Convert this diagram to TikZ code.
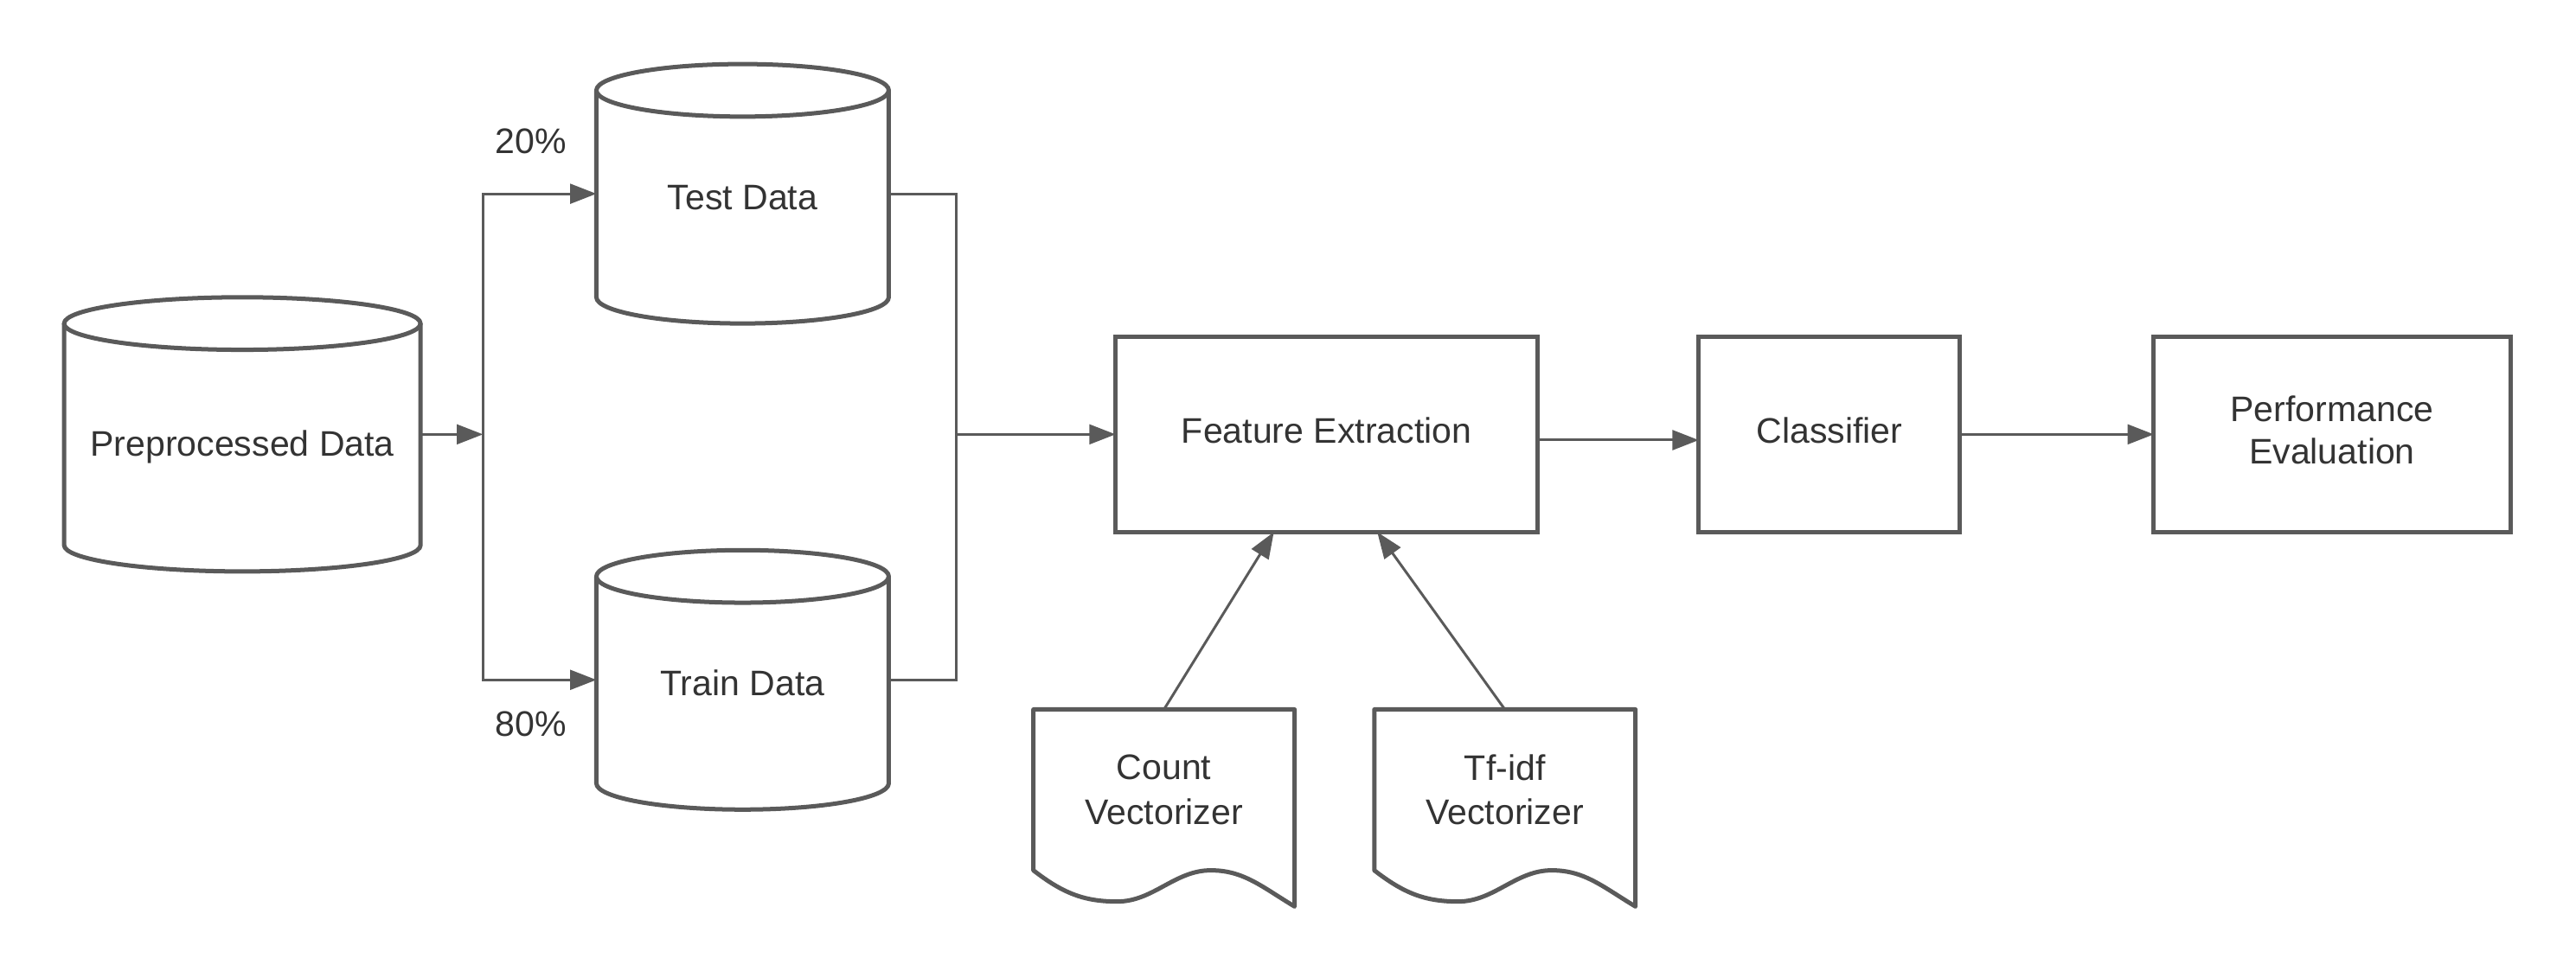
\documentclass[tikz,border=0pt]{standalone}
\usepackage{fontspec}
\setmainfont{Liberation Sans}
\usepackage{xcolor}
\usetikzlibrary{arrows.meta}
\usetikzlibrary{calc}
\definecolor{linegray}{HTML}{5A5A5A}
\definecolor{ink}{HTML}{333333}
\tikzset{every node/.style={font=\fontsize{12.3}{15.4}\selectfont,text=ink},
 box/.style={draw=linegray,line width=1.5pt,inner sep=0pt,outer sep=0pt,align=center,text depth=3pt},
 cyl/.style={inner sep=0pt,outer sep=0pt,align=center,text height=14pt,text depth=3pt},
 doc/.style={inner sep=0pt,outer sep=0pt,align=center,minimum width=3.18cm,minimum height=1.96cm},
 shapeline/.style={draw=linegray,line width=1.5pt,line join=round},
 flow/.style={draw=linegray,line width=0.9pt,-{Triangle[length=0.32cm,width=0.24cm]}},
 link/.style={draw=linegray,line width=0.9pt},
 }
\newcommand{\drawcyl}[2]{%
  \draw[shapeline] ($(#1.north west)+(0,16)$) -- ($(#1.south west)+(0,-16)$)
    arc[start angle=180,end angle=360,x radius=#2,y radius=0.32cm]
    -- ($(#1.north east)+(0,16)$);
  \draw[shapeline] ($(#1.north)+(0,16)$) ellipse [x radius=#2,y radius=0.32cm];
}
\newcommand{\drawdoc}[1]{%
  \draw[shapeline] (#1.south west) -- (#1.north west) -- (#1.north east)
    -- ($(#1.south east)+(0,22)$)
    .. controls +(-20,-12) and +(20,0) .. ($(#1.south west)+(108,0)$)
    .. controls +(-22,0) and +(22,0) .. ($(#1.south west)+(51,19)$)
    .. controls +(-20,0) and +(18,14) .. cycle;
}

\begin{document}
\begin{tikzpicture}[x=0.02cm,y=-0.02cm]
    \useasboundingbox (0,0) rectangle (1568,591);

    \node[cyl,minimum width=4.34cm,minimum height=3.34cm,text height=18pt] (pre) at (147.5,264.5) {Preprocessed Data};
    \node[cyl,minimum width=3.56cm,minimum height=3.16cm] (test) at (452,118) {Test Data};
    \node[cyl,minimum width=3.56cm,minimum height=3.16cm] (train) at (452,414) {Train Data};
    \drawcyl{pre}{2.17cm}
    \drawcyl{test}{1.78cm}
    \drawcyl{train}{1.78cm}

    \node (p20) at (323,86) {20\%};
    \node (p80) at (323,441) {80\%};

    \node[box,minimum width=5.14cm,minimum height=2.38cm] (feat) at (807.5,264.5) {Feature Extraction};
    \node[box,minimum width=3.18cm,minimum height=2.38cm] (cls) at (1113.5,264.5) {Classifier};
    \node[box,minimum width=4.34cm,minimum height=2.38cm,font=\fontsize{12.3}{14.8}\selectfont] (perf) at (1419.5,264.5) {Performance\\Evaluation};

    \node[doc] (count) at (708.5,481) {Count\\Vectorizer};
    \node[doc] (tfidf) at (916,481) {Tf-idf\\Vectorizer};
    \drawdoc{count}
    \drawdoc{tfidf}

    \coordinate (split) at (294,264.5);
    \coordinate (merge) at (582,264.5);

    \draw[flow] (pre.east) -- (split);
    \draw[flow] (split) |- (test.west);
    \draw[flow] (split) |- (train.west);
    \draw[link] (test.east) -| (merge);
    \draw[link] (train.east) -| (merge);
    \draw[flow] (merge) -- (feat.west);

    \draw[flow] ($(feat.east)+(0,3.5)$) -- ($(cls.west)+(0,3.5)$);
    \draw[flow] (cls.east) -- (perf.west);

    \draw[flow] (count.north) -- ($(feat.south west)!0.375!(feat.south east)$);
    \draw[flow] (tfidf.north) -- ($(feat.south west)!0.62!(feat.south east)$);
\end{tikzpicture}
\end{document}
